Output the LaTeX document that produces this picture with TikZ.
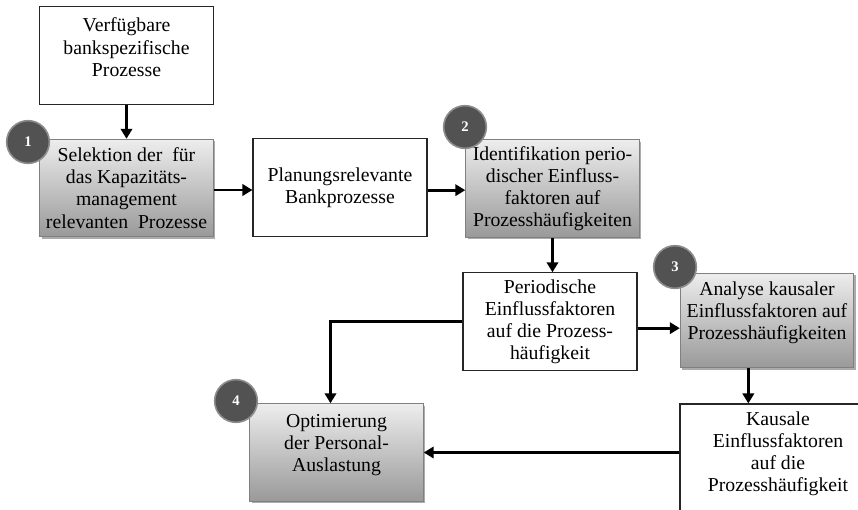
\documentclass[tikz,border=0pt]{standalone}
\usepackage{fontspec}
\setmainfont{Liberation Serif}
\usetikzlibrary{arrows.meta,shadows}
\begin{document}
\begin{tikzpicture}[x=0.75pt,y=-0.75pt,
  every node/.style={font=\fontsize{14.8}{16.6}\selectfont, align=center, inner sep=0pt},
  plainbox/.style={draw=black!85, line width=0.8pt, fill=white,
    minimum width=#1*0.75pt, minimum height=73pt},
  plainbox/.default=174,
  stepbox/.style={draw=black!50, line width=0.8pt,
    top color=black!7, bottom color=black!40,
    minimum width=130pt, minimum height=73pt,
    drop shadow={shadow xshift=1.6pt, shadow yshift=-1.6pt, fill=black!60, opacity=0.55}},
  badge/.style={circle, fill=black!68, draw=black!45, line width=1.2pt,
    minimum size=32pt, text=white, font=\fontsize{11}{12}\selectfont\bfseries},
  flow/.style={line width=2.2pt, -{Triangle[length=7.5pt,width=8.5pt]}},
  link/.style={line width=2.2pt}
]
\useasboundingbox (0,0) rectangle (858,510);
\clip (0,0) rectangle (858,510);

% process boxes
\node[plainbox] (avail) at (126.5,55.5) {Verfügbare\\bankspezifische\\Prozesse\\[-4pt]~};
\node[stepbox] (sel) at (126.5,188) {Selektion der\ \ für\\das Kapazitäts-\\management\\relevanten\ \ Prozesse};
\node[plainbox] (plan) at (340,187.5) {Planungsrelevante\\Bankprozesse};
\node[stepbox] (ident) at (552.5,188.5) {Identifikation perio-\\discher Einfluss-\\faktoren auf\\Prozesshäufigkeiten};
\node[plainbox] (period) at (550,321.5) {Periodische\\Einflussfaktoren\\auf die Prozess-\\häufigkeit};
\node[stepbox, minimum height=71pt] (analyse) at (767,320.5) {Analyse kausaler\\Einflussfaktoren auf\\Prozesshäufigkeiten\\[-2pt]~};
\node[plainbox=196, minimum height=90pt] (kausal) at (778,464) {Kausale\\Einflussfaktoren\\auf die\\Prozesshäufigkeit\\[2pt]~};
\node[stepbox] (optim) at (336.5,452.5) {Optimierung\\der Personal-\\Auslastung\\[-2pt]~};

% numbered badges
\node[badge] (n1) at (28,142) {1};
\node[badge] (n2) at (465,127) {2};
\node[badge] (n3) at (675,267) {3};
\node[badge] (n4) at (236,401) {4};

% connectors
\draw[flow] (avail) -- (sel);
\draw[flow] ([yshift=-1.5]sel.east) -- ([yshift=-1.5]sel.east -| plan.west);
\draw[flow] ([yshift=-2]plan.east) -- ([yshift=-2]plan.east -| ident.west);
\draw[flow] (ident.south) -- (ident.south |- period.north);
\draw[flow] ([yshift=-5]period.east) -- ([yshift=-5]period.east -| analyse.west);
\draw[flow] (period.west) -| ([xshift=-4.5]optim.north);
\draw[flow] ([xshift=-14]analyse.south) -- ([xshift=-14]analyse.south |- kausal.north);
\draw[flow] (kausal.west |- optim.east) -- (optim.east);
\end{tikzpicture}
\end{document}
